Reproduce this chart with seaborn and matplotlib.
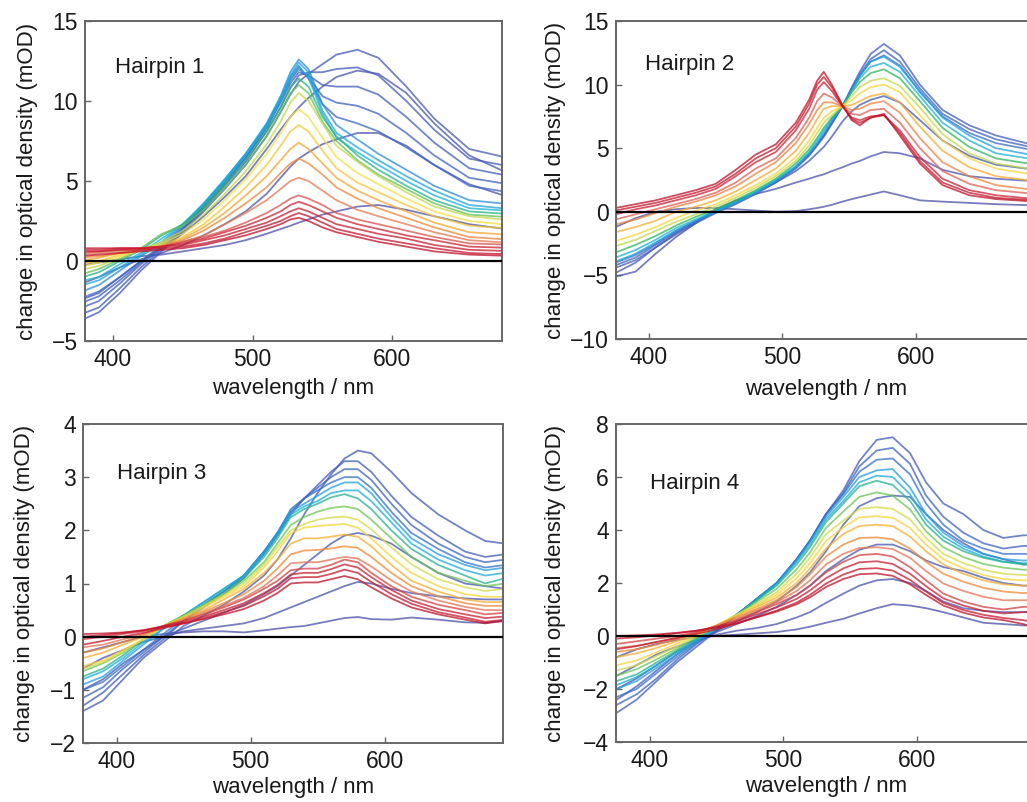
import numpy as np
import pandas as pd
import matplotlib
matplotlib.use("Agg")
import matplotlib.pyplot as plt
import seaborn as sns
from matplotlib.colors import LinearSegmentedColormap

# ---------------- data ----------------
# Each panel: wavelength grid (nm) and spectra (mOD) in time order (blue -> red)

H1_WL = [375, 390, 405, 420, 435, 450, 465, 480, 495, 510, 520, 527, 533, 540,
         550, 560, 575, 590, 610, 630, 655, 690]
H1_SPECTRA = [
    [-0.3, -0.1, 0.1, 0.3, 0.4, 0.6, 0.8, 1.0, 1.3, 1.7, 2.0, 2.2, 2.4, 2.6, 2.9, 3.1, 3.4, 3.5, 3.2, 2.8, 2.3, 1.9],
    [-1.5, -1.0, -0.4, 0.1, 0.5, 1.0, 1.6, 2.3, 3.1, 4.2, 5.2, 5.9, 6.4, 6.8, 7.3, 7.6, 8.0, 8.0, 7.2, 6.0, 4.8, 3.8],
    [-2.5, -2.0, -1.0, 0.0, 0.8, 1.7, 2.8, 4.0, 5.3, 7.0, 8.2, 9.0, 9.6, 10.2, 10.9, 11.5, 11.9, 11.7, 10.5, 8.6, 6.6, 5.2],
    [-3.8, -3.2, -2.0, -0.6, 0.6, 1.8, 3.1, 4.5, 6.0, 7.8, 9.3, 10.4, 11.2, 11.7, 12.3, 12.9, 13.2, 12.7, 10.9, 8.9, 7.0, 6.3],
    [-3.4, -2.9, -1.7, -0.4, 0.7, 1.9, 3.2, 4.7, 6.2, 8.1, 9.6, 10.8, 11.6, 11.8, 11.8, 12.0, 12.1, 11.6, 10.0, 8.2, 6.4, 5.8],
    [-3.0, -2.5, -1.4, -0.2, 0.8, 2.0, 3.3, 4.8, 6.4, 8.3, 9.9, 11.1, 11.8, 11.6, 11.0, 10.9, 10.9, 10.4, 9.0, 7.4, 5.8, 5.2],
    [-2.7, -2.2, -1.2, -0.1, 0.9, 2.0, 3.4, 4.9, 6.5, 8.4, 10.0, 11.3, 12.0, 11.5, 10.3, 9.9, 9.7, 9.2, 8.0, 6.6, 5.2, 4.7],
    [-2.4, -1.9, -1.0, 0.0, 1.0, 2.1, 3.5, 5.0, 6.6, 8.5, 10.1, 11.5, 12.2, 11.4, 9.8, 9.0, 8.6, 8.1, 7.1, 6.0, 4.7, 4.2],
    [-2.0, -1.5, -0.6, 0.3, 1.1, 2.2, 3.6, 5.1, 6.7, 8.6, 10.3, 11.8, 12.6, 12.0, 9.8, 8.5, 7.6, 6.7, 5.7, 4.7, 3.8, 3.5],
    [-1.6, -1.2, -0.4, 0.4, 1.2, 2.3, 3.6, 5.1, 6.7, 8.5, 10.2, 11.6, 12.4, 11.8, 9.4, 8.0, 7.1, 6.3, 5.3, 4.4, 3.5, 3.2],
    [-1.3, -1.0, -0.2, 0.5, 1.4, 2.3, 3.5, 5.0, 6.6, 8.4, 10.0, 11.4, 12.1, 11.5, 9.2, 7.7, 6.8, 6.0, 5.0, 4.1, 3.3, 3.1],
    [-1.1, -0.7, 0.0, 0.7, 1.6, 2.3, 3.4, 4.8, 6.3, 8.1, 9.6, 10.9, 11.4, 10.9, 9.0, 7.8, 6.6, 5.7, 4.7, 3.8, 3.1, 2.9],
    [-0.9, -0.5, 0.1, 0.8, 1.7, 2.2, 3.2, 4.6, 6.0, 7.8, 9.3, 10.5, 11.0, 10.5, 8.7, 7.5, 6.3, 5.4, 4.5, 3.6, 2.9, 2.7],
    [-0.6, -0.3, 0.2, 0.7, 1.2, 1.9, 2.9, 4.2, 5.6, 7.3, 8.7, 9.9, 10.5, 10.0, 8.6, 7.2, 6.2, 5.3, 4.3, 3.4, 2.8, 2.5],
    [-0.4, -0.1, 0.3, 0.7, 1.1, 1.7, 2.6, 3.8, 5.1, 6.7, 8.0, 9.0, 9.5, 9.0, 7.7, 6.5, 5.5, 4.8, 3.9, 3.1, 2.5, 2.2],
    [-0.2, 0.0, 0.4, 0.7, 1.0, 1.5, 2.3, 3.4, 4.6, 6.0, 7.2, 8.1, 8.5, 8.1, 6.9, 5.8, 4.9, 4.3, 3.5, 2.8, 2.2, 2.0],
    [0.0, 0.2, 0.5, 0.7, 0.9, 1.4, 2.1, 3.0, 4.1, 5.3, 6.3, 7.0, 7.4, 7.0, 6.1, 5.2, 4.4, 3.8, 3.1, 2.4, 1.8, 1.6],
    [0.2, 0.3, 0.5, 0.7, 0.9, 1.3, 1.9, 2.7, 3.6, 4.6, 5.5, 6.1, 6.4, 6.1, 5.4, 4.6, 3.9, 3.3, 2.7, 2.1, 1.5, 1.3],
    [0.4, 0.5, 0.6, 0.7, 0.9, 1.2, 1.6, 2.3, 3.0, 3.8, 4.5, 5.0, 5.2, 5.0, 4.4, 3.8, 3.2, 2.8, 2.3, 1.8, 1.3, 1.1],
    [0.5, 0.6, 0.7, 0.8, 0.9, 1.2, 1.5, 1.9, 2.4, 3.0, 3.5, 3.9, 4.1, 3.9, 3.5, 3.0, 2.6, 2.3, 1.9, 1.5, 1.1, 1.0],
    [0.7, 0.7, 0.8, 0.8, 0.9, 1.1, 1.4, 1.8, 2.2, 2.7, 3.1, 3.5, 3.7, 3.5, 3.1, 2.7, 2.3, 2.0, 1.6, 1.3, 0.9, 0.8],
    [0.8, 0.8, 0.8, 0.8, 0.9, 1.0, 1.3, 1.6, 2.0, 2.4, 2.8, 3.1, 3.3, 3.1, 2.7, 2.3, 2.0, 1.7, 1.4, 1.0, 0.7, 0.6],
    [0.6, 0.6, 0.7, 0.7, 0.8, 0.9, 1.1, 1.4, 1.8, 2.2, 2.5, 2.8, 3.0, 2.8, 2.4, 2.0, 1.7, 1.4, 1.1, 0.8, 0.5, 0.4],
    [0.3, 0.4, 0.5, 0.6, 0.7, 0.8, 1.0, 1.3, 1.6, 2.0, 2.3, 2.6, 2.7, 2.5, 2.1, 1.8, 1.5, 1.2, 0.9, 0.6, 0.4, 0.3],
]

H2_WL = [375, 390, 405, 420, 435, 450, 465, 480, 495, 510, 520, 526, 531, 537,
         545, 552, 558, 566, 576, 588, 603, 620, 640, 660, 690]
H2_SPECTRA = [
    [-1.2, -0.5, 0.0, 0.2, 0.3, 0.3, 0.2, 0.1, 0.0, 0.05, 0.2, 0.3, 0.4, 0.55, 0.8, 1.0, 1.15, 1.35, 1.6, 1.3, 0.9, 0.8, 0.7, 0.6, 0.5],
    [-5.1, -4.7, -3.3, -2.0, -0.9, 0.2, 0.9, 1.4, 1.8, 2.3, 2.6, 2.8, 2.95, 3.2, 3.5, 3.8, 4.0, 4.35, 4.7, 4.6, 4.2, 3.3, 2.8, 2.6, 2.4],
    [-4.8, -4.0, -2.8, -1.7, -0.8, 0.1, 0.8, 1.5, 2.3, 3.2, 4.0, 4.6, 5.1, 5.9, 7.1, 7.9, 8.4, 8.8, 9.1, 8.6, 7.2, 5.6, 4.4, 3.7, 3.3],
    [-4.4, -3.8, -2.8, -1.8, -0.9, -0.1, 0.6, 1.4, 2.3, 3.4, 4.4, 5.2, 5.9, 6.9, 8.3, 9.8, 11.0, 12.4, 13.2, 12.3, 10.0, 8.0, 6.8, 6.0, 5.2],
    [-4.2, -3.6, -2.6, -1.6, -0.8, 0.0, 0.7, 1.5, 2.4, 3.5, 4.5, 5.3, 6.0, 7.0, 8.3, 9.7, 10.8, 12.0, 12.7, 11.8, 9.7, 7.7, 6.5, 5.7, 5.0],
    [-4.0, -3.4, -2.5, -1.5, -0.7, 0.0, 0.7, 1.5, 2.4, 3.5, 4.5, 5.3, 6.0, 7.0, 8.3, 9.6, 10.7, 11.8, 12.3, 11.5, 9.4, 7.5, 6.2, 5.4, 4.8],
    [-3.9, -3.3, -2.4, -1.5, -0.7, 0.0, 0.7, 1.5, 2.4, 3.5, 4.6, 5.4, 6.2, 7.2, 8.3, 9.6, 10.7, 11.8, 12.2, 11.4, 9.5, 7.4, 6.0, 5.0, 4.4],
    [-3.6, -3.0, -2.2, -1.3, -0.6, 0.1, 0.8, 1.6, 2.5, 3.6, 4.7, 5.6, 6.4, 7.3, 8.3, 9.5, 10.5, 11.4, 11.7, 11.0, 9.1, 7.0, 5.6, 4.6, 4.1],
    [-3.2, -2.6, -1.9, -1.1, -0.4, 0.2, 0.9, 1.7, 2.6, 3.8, 4.9, 5.8, 6.6, 7.4, 8.3, 9.4, 10.2, 10.9, 11.2, 10.5, 8.7, 6.6, 5.1, 4.2, 3.7],
    [-2.7, -2.2, -1.5, -0.8, -0.2, 0.4, 1.1, 1.9, 2.8, 4.0, 5.2, 6.2, 7.0, 7.6, 8.3, 9.1, 9.8, 10.3, 10.5, 9.9, 8.2, 6.1, 4.6, 3.8, 3.3],
    [-2.3, -1.8, -1.2, -0.5, 0.1, 0.6, 1.3, 2.1, 3.0, 4.3, 5.6, 6.6, 7.4, 7.9, 8.3, 8.8, 9.3, 9.8, 10.0, 9.4, 7.6, 5.6, 4.2, 3.4, 2.9],
    [-1.6, -1.2, -0.7, 0.0, 0.4, 0.9, 1.6, 2.5, 3.4, 4.8, 6.2, 7.3, 8.1, 8.3, 8.3, 8.4, 8.7, 9.1, 9.3, 8.6, 6.7, 4.8, 3.5, 2.8, 2.4],
    [-1.0, -0.6, -0.1, 0.4, 0.8, 1.3, 2.0, 3.0, 3.9, 5.4, 6.9, 8.0, 8.6, 8.6, 8.3, 8.0, 8.1, 8.5, 8.7, 7.8, 5.8, 3.9, 2.8, 2.1, 1.7],
    [-0.6, -0.2, 0.2, 0.6, 1.0, 1.5, 2.3, 3.4, 4.2, 5.8, 7.4, 8.7, 9.3, 9.0, 8.3, 7.7, 7.6, 8.0, 8.1, 7.0, 5.0, 3.2, 2.2, 1.7, 1.4],
    [-0.2, 0.2, 0.5, 0.9, 1.3, 1.8, 2.8, 3.9, 4.7, 6.4, 8.1, 9.6, 10.2, 9.5, 8.3, 7.4, 7.2, 7.5, 7.6, 6.4, 4.3, 2.6, 1.7, 1.3, 1.0],
    [0.1, 0.4, 0.7, 1.1, 1.5, 2.0, 3.0, 4.2, 5.0, 6.7, 8.5, 10.0, 10.6, 9.8, 8.3, 7.3, 7.0, 7.4, 7.6, 6.2, 4.0, 2.3, 1.5, 1.1, 0.9],
    [0.3, 0.6, 0.9, 1.3, 1.7, 2.2, 3.3, 4.5, 5.3, 7.0, 8.8, 10.3, 11.0, 10.0, 8.4, 7.2, 6.8, 7.4, 7.7, 6.0, 3.8, 2.1, 1.3, 1.0, 0.8],
]

H3_WL = [375, 390, 405, 420, 435, 450, 465, 480, 495, 510, 520, 530, 540, 550,
         560, 570, 580, 590, 605, 620, 640, 660, 675, 690]
H3_SPECTRA = [
    [-0.3, -0.2, -0.1, 0.0, 0.05, 0.08, 0.1, 0.1, 0.08, 0.12, 0.15, 0.18, 0.2, 0.25, 0.3, 0.35, 0.37, 0.33, 0.32, 0.36, 0.32, 0.27, 0.26, 0.3],
    [-0.6, -0.4, -0.25, -0.1, 0.0, 0.1, 0.15, 0.2, 0.25, 0.35, 0.45, 0.55, 0.65, 0.75, 0.85, 0.95, 1.03, 1.0, 0.9, 0.82, 0.76, 0.72, 0.7, 0.7],
    [-1.0, -0.8, -0.5, -0.25, 0.0, 0.15, 0.3, 0.45, 0.6, 0.8, 0.95, 1.15, 1.35, 1.55, 1.75, 1.9, 1.95, 1.9, 1.75, 1.5, 1.2, 1.0, 0.95, 0.9],
    [-1.4, -1.2, -0.8, -0.4, -0.1, 0.2, 0.4, 0.6, 0.85, 1.15, 1.45, 1.85, 2.3, 2.7, 3.05, 3.35, 3.5, 3.45, 3.1, 2.7, 2.3, 2.0, 1.8, 1.75],
    [-1.3, -1.05, -0.7, -0.35, -0.05, 0.3, 0.55, 0.8, 1.1, 1.55, 1.9, 2.3, 2.6, 2.85, 3.1, 3.3, 3.3, 3.1, 2.65, 2.25, 1.9, 1.6, 1.5, 1.55],
    [-1.15, -0.95, -0.6, -0.3, 0.0, 0.3, 0.6, 0.85, 1.15, 1.6, 1.95, 2.35, 2.6, 2.8, 3.0, 3.15, 3.15, 2.95, 2.5, 2.1, 1.75, 1.5, 1.4, 1.45],
    [-1.0, -0.85, -0.55, -0.25, 0.05, 0.35, 0.6, 0.85, 1.15, 1.6, 1.95, 2.4, 2.6, 2.75, 2.9, 3.0, 3.0, 2.8, 2.35, 1.95, 1.65, 1.4, 1.3, 1.35],
    [-0.9, -0.75, -0.45, -0.15, 0.15, 0.4, 0.65, 0.9, 1.15, 1.6, 1.95, 2.35, 2.5, 2.65, 2.8, 2.9, 2.9, 2.7, 2.25, 1.85, 1.55, 1.35, 1.25, 1.3],
    [-0.8, -0.65, -0.4, -0.1, 0.15, 0.4, 0.65, 0.9, 1.15, 1.55, 1.9, 2.3, 2.45, 2.55, 2.7, 2.75, 2.75, 2.55, 2.15, 1.75, 1.45, 1.25, 1.15, 1.2],
    [-0.75, -0.6, -0.35, -0.05, 0.2, 0.4, 0.6, 0.85, 1.1, 1.5, 1.85, 2.25, 2.4, 2.5, 2.62, 2.68, 2.6, 2.4, 2.0, 1.65, 1.35, 1.15, 1.0, 1.1],
    [-0.65, -0.5, -0.3, -0.05, 0.2, 0.4, 0.6, 0.8, 1.05, 1.4, 1.75, 2.1, 2.25, 2.35, 2.42, 2.45, 2.4, 2.2, 1.85, 1.5, 1.2, 1.05, 0.95, 1.0],
    [-0.6, -0.48, -0.28, -0.05, 0.2, 0.38, 0.58, 0.78, 1.0, 1.35, 1.68, 2.0, 2.12, 2.2, 2.24, 2.26, 2.2, 2.02, 1.68, 1.36, 1.08, 0.93, 0.86, 0.9],
    [-0.55, -0.45, -0.25, -0.05, 0.2, 0.35, 0.55, 0.75, 0.95, 1.3, 1.6, 1.95, 2.05, 2.08, 2.1, 2.12, 2.05, 1.85, 1.5, 1.2, 0.95, 0.8, 0.75, 0.75],
    [-0.4, -0.3, -0.15, 0.0, 0.2, 0.35, 0.5, 0.7, 0.9, 1.2, 1.45, 1.75, 1.85, 1.85, 1.88, 1.92, 1.88, 1.7, 1.35, 1.05, 0.85, 0.7, 0.65, 0.65],
    [-0.3, -0.22, -0.1, 0.03, 0.2, 0.33, 0.47, 0.63, 0.8, 1.05, 1.28, 1.55, 1.62, 1.63, 1.66, 1.7, 1.67, 1.5, 1.2, 0.95, 0.76, 0.63, 0.58, 0.58],
    [-0.2, -0.15, -0.05, 0.05, 0.2, 0.3, 0.44, 0.58, 0.73, 0.95, 1.15, 1.38, 1.4, 1.4, 1.45, 1.5, 1.47, 1.32, 1.06, 0.85, 0.68, 0.56, 0.5, 0.5],
    [-0.05, 0.0, 0.05, 0.1, 0.2, 0.3, 0.42, 0.55, 0.7, 0.9, 1.05, 1.25, 1.28, 1.28, 1.35, 1.45, 1.4, 1.2, 0.95, 0.75, 0.6, 0.5, 0.42, 0.45],
    [0.0, 0.03, 0.07, 0.12, 0.2, 0.28, 0.38, 0.5, 0.63, 0.82, 0.97, 1.17, 1.2, 1.2, 1.27, 1.36, 1.3, 1.12, 0.88, 0.68, 0.52, 0.42, 0.35, 0.38],
    [-0.15, -0.08, 0.0, 0.07, 0.16, 0.25, 0.35, 0.46, 0.58, 0.76, 0.9, 1.1, 1.12, 1.12, 1.18, 1.26, 1.2, 1.03, 0.8, 0.62, 0.46, 0.36, 0.28, 0.32],
    [0.05, 0.06, 0.08, 0.12, 0.18, 0.25, 0.33, 0.42, 0.52, 0.68, 0.82, 1.0, 1.02, 1.02, 1.08, 1.14, 1.08, 0.93, 0.72, 0.55, 0.42, 0.32, 0.25, 0.3],
]

H4_WL = [375, 390, 405, 420, 435, 450, 465, 480, 495, 510, 520, 532, 545, 557,
         570, 582, 595, 607, 620, 635, 650, 665, 680, 690]
H4_SPECTRA = [
    [-0.8, -0.5, -0.3, -0.15, -0.05, 0.0, 0.05, 0.1, 0.15, 0.25, 0.35, 0.5, 0.65, 0.85, 1.05, 1.2, 1.15, 1.05, 0.9, 0.7, 0.5, 0.45, 0.4, 0.4],
    [-1.5, -1.1, -0.7, -0.4, -0.15, 0.05, 0.2, 0.3, 0.45, 0.7, 0.9, 1.25, 1.6, 1.9, 2.1, 2.15, 2.0, 1.7, 1.3, 1.05, 0.95, 0.9, 0.9, 0.9],
    [-2.0, -1.6, -1.1, -0.6, -0.2, 0.15, 0.45, 0.75, 1.1, 1.55, 1.9, 2.45, 2.9, 3.25, 3.45, 3.45, 3.2, 2.85, 2.6, 2.45, 2.2, 2.0, 1.9, 1.9],
    [-2.4, -1.9, -1.3, -0.7, -0.2, 0.2, 0.55, 0.9, 1.3, 1.9, 2.4, 3.2, 4.2, 4.9, 5.2, 5.3, 5.25, 4.6, 4.0, 3.5, 3.1, 2.9, 2.7, 2.7],
    [-2.9, -2.4, -1.7, -1.0, -0.4, 0.2, 0.8, 1.4, 2.0, 2.9, 3.6, 4.6, 5.5, 6.6, 7.4, 7.5, 6.9, 5.8, 5.0, 4.6, 4.0, 3.7, 3.8, 3.8],
    [-2.6, -2.2, -1.6, -0.9, -0.3, 0.2, 0.8, 1.4, 2.0, 2.9, 3.6, 4.6, 5.4, 6.4, 7.0, 7.1, 6.5, 5.3, 4.5, 3.9, 3.5, 3.3, 3.4, 3.4],
    [-2.3, -2.0, -1.4, -0.8, -0.25, 0.25, 0.8, 1.4, 2.0, 2.9, 3.6, 4.6, 5.35, 6.2, 6.65, 6.7, 6.1, 5.0, 4.2, 3.6, 3.3, 3.1, 3.1, 3.1],
    [-2.0, -1.7, -1.2, -0.7, -0.2, 0.3, 0.8, 1.4, 2.0, 2.85, 3.55, 4.5, 5.25, 6.0, 6.25, 6.3, 5.6, 4.6, 3.9, 3.4, 3.1, 2.9, 2.85, 2.85],
    [-1.85, -1.55, -1.1, -0.6, -0.15, 0.3, 0.8, 1.35, 1.95, 2.8, 3.45, 4.4, 5.1, 5.8, 6.05, 6.0, 5.35, 4.4, 3.75, 3.3, 3.0, 2.8, 2.75, 2.75],
    [-1.7, -1.45, -1.0, -0.55, -0.1, 0.35, 0.8, 1.35, 1.9, 2.7, 3.35, 4.3, 5.0, 5.65, 5.86, 5.7, 5.1, 4.2, 3.6, 3.2, 2.95, 2.8, 2.7, 2.7],
    [-1.5, -1.25, -0.88, -0.48, -0.05, 0.38, 0.8, 1.28, 1.78, 2.52, 3.15, 4.08, 4.7, 5.25, 5.42, 5.3, 4.78, 3.95, 3.35, 2.98, 2.72, 2.58, 2.5, 2.5],
    [-1.3, -1.1, -0.75, -0.4, 0.0, 0.4, 0.8, 1.2, 1.65, 2.35, 2.95, 3.85, 4.35, 4.8, 4.86, 4.8, 4.4, 3.7, 3.1, 2.75, 2.5, 2.35, 2.3, 2.3],
    [-1.1, -0.92, -0.62, -0.3, 0.05, 0.4, 0.78, 1.15, 1.55, 2.18, 2.75, 3.58, 4.1, 4.48, 4.52, 4.46, 4.08, 3.45, 2.9, 2.55, 2.3, 2.15, 2.1, 2.1],
    [-0.8, -0.65, -0.45, -0.2, 0.1, 0.4, 0.75, 1.1, 1.45, 2.0, 2.55, 3.3, 3.85, 4.15, 4.2, 4.15, 3.75, 3.2, 2.7, 2.35, 2.1, 1.95, 1.9, 1.9],
    [-0.6, -0.5, -0.33, -0.12, 0.12, 0.4, 0.7, 1.02, 1.35, 1.85, 2.33, 3.0, 3.45, 3.7, 3.72, 3.65, 3.3, 2.8, 2.35, 2.05, 1.82, 1.68, 1.62, 1.62],
    [-0.45, -0.37, -0.24, -0.06, 0.14, 0.38, 0.65, 0.96, 1.27, 1.7, 2.1, 2.7, 3.1, 3.32, 3.35, 3.28, 2.95, 2.45, 1.98, 1.7, 1.48, 1.35, 1.35, 1.35],
    [-0.3, -0.2, -0.1, 0.0, 0.15, 0.35, 0.6, 0.9, 1.2, 1.55, 1.9, 2.4, 2.8, 3.05, 3.1, 3.0, 2.6, 2.1, 1.6, 1.3, 1.1, 1.0, 1.1, 1.1],
    [-0.1, -0.05, 0.02, 0.1, 0.2, 0.35, 0.55, 0.82, 1.08, 1.4, 1.72, 2.18, 2.55, 2.78, 2.82, 2.72, 2.35, 1.88, 1.42, 1.15, 0.95, 0.85, 0.9, 0.9],
    [-0.5, -0.38, -0.22, -0.08, 0.08, 0.26, 0.47, 0.72, 0.96, 1.26, 1.55, 1.98, 2.32, 2.53, 2.56, 2.47, 2.12, 1.68, 1.25, 0.98, 0.8, 0.68, 0.6, 0.5],
    [0.0, 0.02, 0.06, 0.12, 0.2, 0.32, 0.48, 0.7, 0.92, 1.2, 1.46, 1.85, 2.15, 2.33, 2.36, 2.27, 1.95, 1.55, 1.15, 0.88, 0.7, 0.6, 0.45, 0.3],
]

PANEL_TITLES = ["Hairpin 1", "Hairpin 2", "Hairpin 3", "Hairpin 4"]
X_TICKS = [400, 500, 600]
Y_TICKS = [[-5, 0, 5, 10, 15], [-10, -5, 0, 5, 10, 15],
           [-2, -1, 0, 1, 2, 3, 4], [-4, -2, 0, 2, 4, 6, 8]]
X_LABEL = "wavelength / nm"
Y_LABEL = "change in optical density (mOD)"

# ---------------- style ----------------
sns.set_style("white")
plt.rcParams["font.family"] = ["Liberation Sans", "DejaVu Sans"]
plt.rcParams["axes.unicode_minus"] = True

time_cmap = LinearSegmentedColormap.from_list("timecolors", [
    (0.00, "#4b4fa6"), (0.30, "#3c63c2"), (0.37, "#1f9ee0"), (0.44, "#16b3d6"),
    (0.50, "#2cb25a"), (0.555, "#b6d64c"), (0.61, "#f6e03c"), (0.68, "#f6b42e"),
    (0.73, "#ef8a30"), (0.80, "#e2715c"), (0.87, "#cc2233"), (1.00, "#c0102a")])

fig = plt.figure(figsize=(10.27, 8.02), dpi=100)

W, H = 1027.0, 802.0
# (left px, top px, width px, height px)
rects_px = [(85, 21, 417, 320), (616, 21, 420, 318), (83, 424, 420, 319), (616, 424, 420, 318)]
xlims = [(380, 678.5), (375.3, 690), (375, 688.3), (374.5, 689.5)]
ylims = [(-5, 15), (-10, 15), (-2, 4), (-4, 8)]
title_pos = [(0.072, 0.856), (0.069, 0.862), (0.080, 0.845), (0.081, 0.813)]
ylabel_x = [-0.113, -0.119, -0.115, -0.119]
xlabel_y = [-0.115, -0.126, -0.107, -0.107]

panels = [(H1_WL, H1_SPECTRA), (H2_WL, H2_SPECTRA), (H3_WL, H3_SPECTRA), (H4_WL, H4_SPECTRA)]

for k, (wl, spectra) in enumerate(panels):
    lpx, tpx, wpx, hpx = rects_px[k]
    ax = fig.add_axes([lpx / W, 1 - (tpx + hpx) / H, wpx / W, hpx / H])
    rows = []
    for i, spec in enumerate(spectra):
        if len(spec) != len(wl):
            raise ValueError(f"panel {k} spectrum {i} length {len(spec)} != {len(wl)}")
        for w, v in zip(wl, spec):
            rows.append({"wl": w, "od": v, "t": i})
    df = pd.DataFrame(rows)
    n = len(spectra)
    colors = [time_cmap(i / (n - 1)) for i in range(n)]
    sns.lineplot(data=df, x="wl", y="od", hue="t", palette=colors, legend=False,
                 estimator=None, errorbar=None, sort=False, linewidth=1.3,
                 alpha=0.75, ax=ax)
    ax.axhline(0, color="black", lw=1.6, zorder=10)
    ax.set_xlim(*xlims[k])
    ax.set_ylim(*ylims[k])
    ax.set_xticks(X_TICKS)
    ax.set_yticks(Y_TICKS[k])
    ax.tick_params(direction="in", length=4, width=1.0, color="#666666",
                   labelsize=16.5, pad=5, bottom=True, left=True, top=False, right=False,
                   labelcolor="#1a1a1a")
    for sp in ax.spines.values():
        sp.set_color("#666666")
        sp.set_linewidth(1.4)
    ax.set_xlabel(X_LABEL, fontsize=16, color="#1a1a1a")
    ax.set_ylabel(Y_LABEL, fontsize=16, color="#1a1a1a")
    ax.xaxis.set_label_coords(0.5, xlabel_y[k])
    ax.yaxis.set_label_coords(ylabel_x[k], 0.5)
    ax.text(title_pos[k][0], title_pos[k][1], PANEL_TITLES[k], transform=ax.transAxes,
            fontsize=16, ha="left", va="center", color="#1a1a1a")

fig.savefig("out.png", dpi=100)
